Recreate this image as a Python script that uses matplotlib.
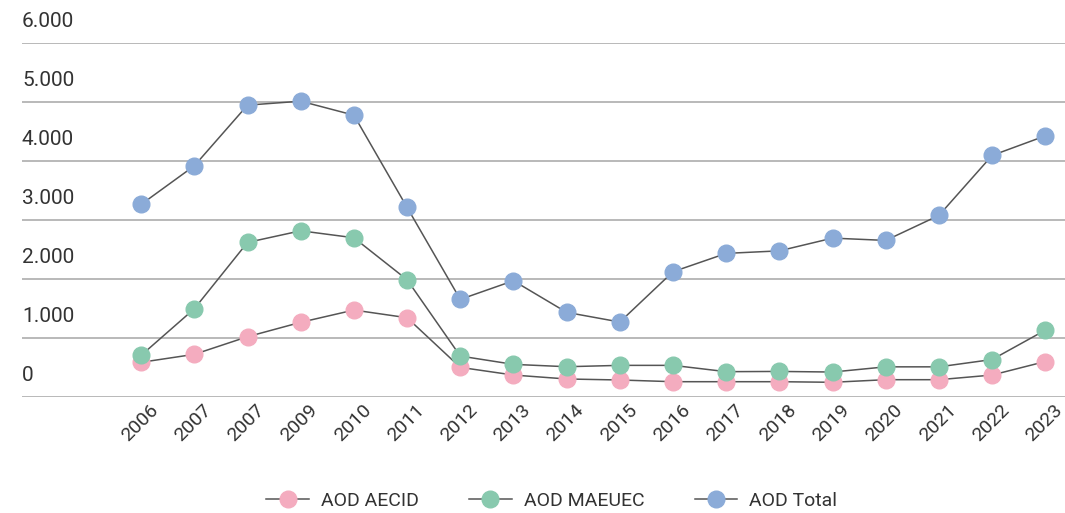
import matplotlib
matplotlib.use("Agg")
import matplotlib.pyplot as plt
import matplotlib.transforms as mtransforms

plt.rcParams["font.family"] = ["Roboto", "DejaVu Sans"]

years = ["2006", "2007", "2007", "2009", "2010", "2011", "2012", "2013", "2014",
         "2015", "2016", "2017", "2018", "2019", "2020", "2021", "2022", "2023"]
aod_aecid = [580, 715, 1014, 1258, 1466, 1336, 494, 364, 297, 280, 251, 251,
             251, 241, 285, 285, 364, 593]
aod_maeuec = [698, 1488, 2613, 2810, 2692, 1980, 686, 545, 505, 528, 528, 421,
              425, 415, 503, 503, 627, 1125]
aod_total = [3258, 3912, 4941, 5008, 4771, 3207, 1647, 1963, 1427, 1263, 2116,
             2427, 2470, 2686, 2647, 3071, 4088, 4420]
y_ticks = [0, 1000, 2000, 3000, 4000, 5000, 6000]
y_labels = ["0", "1.000", "2.000", "3.000", "4.000", "5.000", "6.000"]

series = [
    ("AOD AECID", aod_aecid, "#F4ACBF"),
    ("AOD MAEUEC", aod_maeuec, "#88C9AE"),
    ("AOD Total", aod_total, "#8BABD8"),
]

W, H = 1065, 513
fig = plt.figure(figsize=(W / 100, H / 100), dpi=100)
ax = fig.add_axes([22 / W, (H - 396.5) / H, (1065 - 22) / W, (396.5 - 42.7) / H])

x = list(range(len(years)))
for name, vals, col in series:
    ax.plot(x, vals, color="#555555", linewidth=1.1, marker="o", markersize=12,
            markerfacecolor=col, markeredgecolor=col, label=name, zorder=3)

ax.set_ylim(0, 6000)
ax.set_xlim(-2.24, 17.37)
for s in ax.spines.values():
    s.set_visible(False)
ax.set_yticks(y_ticks)
ax.yaxis.grid(True, color="#A6A6A6", linewidth=1.1)
ax.set_axisbelow(True)
ax.tick_params(axis="y", length=0, labelleft=False)
ax.tick_params(axis="x", length=0, pad=3)

# y labels sit above their gridlines, left aligned
trans = mtransforms.blended_transform_factory(ax.transAxes, ax.transData)
off = mtransforms.ScaledTranslation(0, 21 / 100, fig.dpi_scale_trans)
for v, lab in zip(y_ticks, y_labels):
    ax.text(0, v, lab, transform=trans + off, ha="left", va="center",
            fontsize=15, color="#333333")

ax.set_xticks(x)
ax.set_xticklabels(years, rotation=45, ha="right", va="top",
                   rotation_mode="anchor", fontsize=14, color="#333333")
xoff = mtransforms.ScaledTranslation(8 / 100, 0, fig.dpi_scale_trans)
for lbl in ax.get_xticklabels():
    lbl.set_transform(lbl.get_transform() + xoff)

fig.legend(loc="center", bbox_to_anchor=(0.518, (H - 501) / H), ncol=3,
           frameon=False, fontsize=14, handlelength=2.2, columnspacing=2.6,
           handletextpad=0.6, labelcolor="#333333")

fig.savefig("out.png", dpi=100)
